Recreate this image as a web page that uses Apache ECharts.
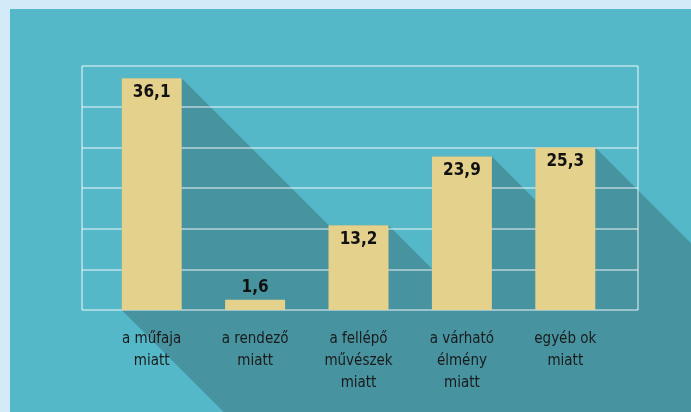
<!DOCTYPE html>
<html>
<head>
<meta charset="utf-8">
<script src="https://cdn.jsdelivr.net/npm/echarts@6/dist/echarts.min.js"></script>
<style>
  html, body { margin: 0; padding: 0; background: #d3ebf8; }
  #main { width: 691px; height: 412px; }
</style>
</head>
<body>
<div id="main"></div>
<script>
// adatok
var categories = ["a műfaja\nmiatt", "a rendező\nmiatt", "a fellépő\nművészek\nmiatt", "a várható\nélmény\nmiatt", "egyéb ok\nmiatt"];
var values = [36.1, 1.6, 13.2, 23.9, 25.3];

var yMax = 38;
var font = "'DejaVu Sans', sans-serif";

var myChart = echarts.init(document.getElementById("main"));

var barData = values.map(function (v, i) {
  return {
    value: v,
    label: { position: v < 5 ? "top" : "insideTop", distance: v < 5 ? 4 : 6 }
  };
});

var option = {
  backgroundColor: "#d3ebf8",
  animation: false,
  graphic: [
    {
      type: "rect",
      z: -10,
      shape: { x: 10, y: 9, width: 681, height: 403 },
      style: { fill: "#54b8c8" }
    }
  ],
  grid: [
    // a rács vonalai
    { left: 82, right: 53, top: 66, bottom: 102 },
    // az oszlopok
    { left: 100, right: 74, top: 66, bottom: 102 }
  ],
  xAxis: [
    {
      gridIndex: 0, type: "value", min: 0, max: 1, interval: 1, z: 3,
      axisLine: { show: false }, axisTick: { show: false }, axisLabel: { show: false },
      splitLine: { show: true, lineStyle: { color: "rgba(255,255,255,0.45)", width: 2 } }
    },
    {
      gridIndex: 1, type: "category", data: categories, z: 6,
      axisLine: { show: false }, axisTick: { show: false },
      axisLabel: {
        margin: 18, color: "#1a1a1a", fontSize: 15, lineHeight: 22,
        fontFamily: font, fontWeight: "normal condensed", interval: 0
      }
    }
  ],
  yAxis: [
    {
      gridIndex: 0, type: "value", min: 0, max: yMax, interval: yMax / 6, z: 3,
      axisLine: { show: false }, axisTick: { show: false }, axisLabel: { show: false },
      splitLine: { show: true, lineStyle: { color: "rgba(255,255,255,0.45)", width: 2 } }
    },
    {
      gridIndex: 1, type: "value", min: 0, max: yMax,
      show: false, splitLine: { show: false }
    }
  ],
  series: [
    {
      // hosszú árnyék
      type: "custom",
      xAxisIndex: 1,
      yAxisIndex: 1,
      z: 1,
      clip: false,
      silent: true,
      data: values.map(function (v, i) { return [i, v]; }),
      renderItem: function (params, api) {
        var top = api.coord([api.value(0), api.value(1)]);
        var bottom = api.coord([api.value(0), 0]);
        var hw = 30;
        var x1 = top[0] - hw, x2 = top[0] + hw;
        var L = 600;
        return {
          type: "polygon",
          shape: {
            points: [
              [x1, top[1]], [x2, top[1]], [x2 + L, top[1] + L],
              [x2 + L, bottom[1] + L], [x1 + L, bottom[1] + L], [x1, bottom[1]]
            ]
          },
          style: { fill: "#4793a0" }
        };
      }
    },
    {
      type: "bar",
      xAxisIndex: 1,
      yAxisIndex: 1,
      z: 5,
      barWidth: 60,
      data: barData,
      itemStyle: { color: "#e3d18c" },
      label: {
        show: true,
        color: "#111",
        fontSize: 17,
        fontWeight: "bold condensed",
        fontFamily: font,
        formatter: function (p) { return String(p.value).replace(".", ","); }
      }
    }
  ]
};

myChart.setOption(option);
</script>
</body>
</html>
